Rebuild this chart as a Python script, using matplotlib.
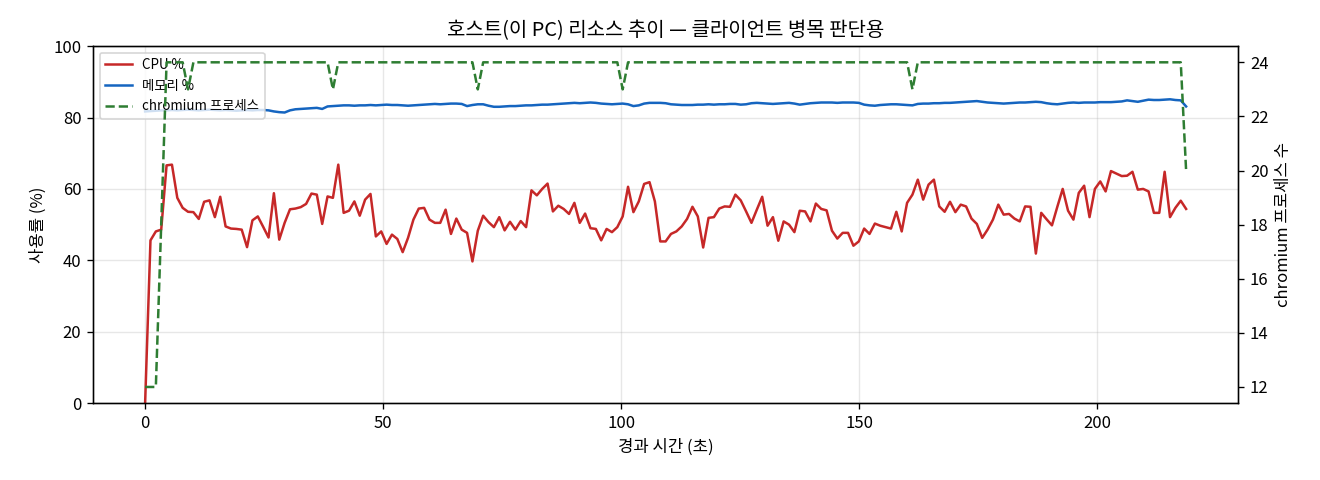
import numpy as np
import matplotlib
matplotlib.use('Agg')
import matplotlib.pyplot as plt

plt.rcParams['font.family'] = ['Noto Sans CJK KR', 'DejaVu Sans']
plt.rcParams['axes.unicode_minus'] = False

# one sample roughly every 1.127 s
SAMPLE_SEC = 1.127

cpu_pct = [
    0, 45.6, 48.1, 48.6, 66.6, 66.8, 57.5, 54.7, 53.6, 53.5,
    51.6, 56.4, 56.8, 52.1, 57.8, 49.5, 48.9, 48.8, 48.6, 43.7,
    51.2, 52.3, 49.4, 46.4, 58.8, 45.8, 50.5, 54.3, 54.5, 54.9,
    55.8, 58.7, 58.4, 50.2, 57.9, 57.5, 66.8, 53.3, 53.9, 56.5,
    52.5, 57.0, 58.6, 46.7, 48.1, 44.6, 47.2, 46.0, 42.3, 46.3,
    51.4, 54.5, 54.7, 51.4, 50.5, 50.5, 54.2, 47.4, 51.7, 48.6,
    47.7, 39.7, 48.3, 52.5, 50.7, 49.3, 52.1, 48.4, 50.8, 48.6,
    51.0, 49.3, 59.6, 58.2, 60.0, 61.5, 53.7, 55.3, 54.4, 53.0,
    56.1, 50.5, 53.1, 49.0, 48.8, 45.6, 48.8, 47.9, 49.3, 52.3,
    60.6, 53.5, 56.5, 61.4, 61.9, 56.5, 45.3, 45.3, 47.4, 48.1,
    49.5, 51.6, 55.0, 52.3, 43.6, 51.9, 52.1, 54.5, 55.1, 55.0,
    58.4, 56.8, 53.7, 50.5, 54.2, 57.8, 49.7, 52.1, 45.5, 50.9,
    50.0, 47.9, 53.9, 53.7, 50.9, 55.9, 54.4, 54.0, 48.3, 46.1,
    47.7, 47.7, 44.1, 45.3, 48.9, 47.4, 50.3, 49.7, 49.3, 48.9,
    53.6, 48.1, 56.1, 58.4, 62.6, 57.0, 61.2, 62.6, 55.1, 53.6,
    56.4, 53.5, 55.6, 55.1, 51.7, 50.2, 46.3, 48.6, 51.4, 55.6,
    52.8, 53.0, 51.7, 50.9, 55.1, 55.0, 41.9, 53.3, 51.5, 49.8,
    55.0, 60.0, 53.9, 51.4, 58.9, 60.9, 52.1, 60.0, 62.1, 59.3,
    65.0, 64.3, 63.6, 63.7, 64.8, 59.8, 60.0, 59.3, 53.3, 53.3,
    64.8, 52.1, 54.7, 56.7, 54.4,
]

mem_pct = [
    81.7, 81.8, 81.9, 82.0, 82.0, 82.1, 82.0, 82.1, 82.2, 82.1,
    82.0, 82.1, 82.2, 82.1, 82.0, 82.1, 82.0, 81.9, 82.0, 82.1,
    82.0, 82.1, 82.1, 82.0, 81.7, 81.5, 81.4, 82.0, 82.3, 82.4,
    82.5, 82.6, 82.7, 82.4, 83.1, 83.2, 83.3, 83.4, 83.4, 83.3,
    83.4, 83.4, 83.5, 83.4, 83.5, 83.6, 83.5, 83.5, 83.4, 83.3,
    83.4, 83.5, 83.6, 83.7, 83.8, 83.7, 83.8, 83.9, 83.9, 83.8,
    83.2, 83.5, 83.7, 83.7, 83.3, 83.0, 83.0, 83.1, 83.2, 83.2,
    83.3, 83.4, 83.4, 83.5, 83.6, 83.6, 83.7, 83.8, 83.9, 84.0,
    84.1, 84.0, 84.1, 84.2, 84.1, 83.9, 83.8, 83.7, 83.8, 83.9,
    83.7, 83.2, 83.4, 83.9, 84.1, 84.1, 84.1, 84.0, 83.7, 83.6,
    83.5, 83.5, 83.5, 83.6, 83.6, 83.7, 83.6, 83.7, 83.7, 83.8,
    83.8, 83.6, 83.7, 84.0, 84.1, 84.0, 83.9, 83.8, 83.9, 84.0,
    84.1, 83.9, 83.6, 83.8, 84.0, 84.1, 84.2, 84.2, 84.2, 84.1,
    84.2, 84.2, 84.2, 84.1, 83.6, 83.4, 83.3, 83.5, 83.6, 83.7,
    83.7, 83.6, 83.5, 83.4, 83.8, 83.9, 83.9, 84.0, 84.0, 84.1,
    84.1, 84.2, 84.3, 84.4, 84.5, 84.6, 84.4, 84.2, 84.1, 84.0,
    83.9, 84.0, 84.1, 84.2, 84.2, 84.3, 84.4, 84.3, 84.0, 83.8,
    83.7, 83.9, 84.1, 84.2, 84.1, 84.2, 84.2, 84.2, 84.3, 84.3,
    84.3, 84.4, 84.5, 84.8, 84.6, 84.4, 84.7, 85.0, 84.9, 84.9,
    85.0, 85.1, 84.9, 84.8, 83.1,
]

chromium_procs = [
    12, 12, 12, 18, 24, 24, 24, 24, 23, 24,
    24, 24, 24, 24, 24, 24, 24, 24, 24, 24,
    24, 24, 24, 24, 24, 24, 24, 24, 24, 24,
    24, 24, 24, 24, 24, 23, 24, 24, 24, 24,
    24, 24, 24, 24, 24, 24, 24, 24, 24, 24,
    24, 24, 24, 24, 24, 24, 24, 24, 24, 24,
    24, 24, 23, 24, 24, 24, 24, 24, 24, 24,
    24, 24, 24, 24, 24, 24, 24, 24, 24, 24,
    24, 24, 24, 24, 24, 24, 24, 24, 24, 23,
    24, 24, 24, 24, 24, 24, 24, 24, 24, 24,
    24, 24, 24, 24, 24, 24, 24, 24, 24, 24,
    24, 24, 24, 24, 24, 24, 24, 24, 24, 24,
    24, 24, 24, 24, 24, 24, 24, 24, 24, 24,
    24, 24, 24, 24, 24, 24, 24, 24, 24, 24,
    24, 24, 24, 23, 24, 24, 24, 24, 24, 24,
    24, 24, 24, 24, 24, 24, 24, 24, 24, 24,
    24, 24, 24, 24, 24, 24, 24, 24, 24, 24,
    24, 24, 24, 24, 24, 24, 24, 24, 24, 24,
    24, 24, 24, 24, 24, 24, 24, 24, 24, 24,
    24, 24, 24, 24, 20,
]

assert len(cpu_pct) == len(mem_pct) == len(chromium_procs)
elapsed = np.arange(len(cpu_pct)) * SAMPLE_SEC

fig, ax = plt.subplots(figsize=(11, 4), dpi=120)
fig.subplots_adjust(left=0.0705, right=0.938, top=0.904, bottom=0.16)

l1, = ax.plot(elapsed, cpu_pct, color='#c62828', lw=1.5, label='CPU %')
l2, = ax.plot(elapsed, mem_pct, color='#1565c0', lw=1.5, label='메모리 %')
ax.set_ylim(0, 100)
ax.set_xlabel('경과 시간 (초)')
ax.set_ylabel('사용률 (%)')
ax.grid(True, alpha=0.3)

ax2 = ax.twinx()
l3, = ax2.plot(elapsed, chromium_procs, color='#2e7d32', lw=1.5, ls='--',
               label='chromium 프로세스')
ax2.set_ylabel('chromium 프로세스 수')

ax.legend(handles=[l1, l2, l3], loc='upper left', fontsize=8)
ax.set_title('호스트(이 PC) 리소스 추이 — 클라이언트 병목 판단용')

fig.savefig('out.png')
